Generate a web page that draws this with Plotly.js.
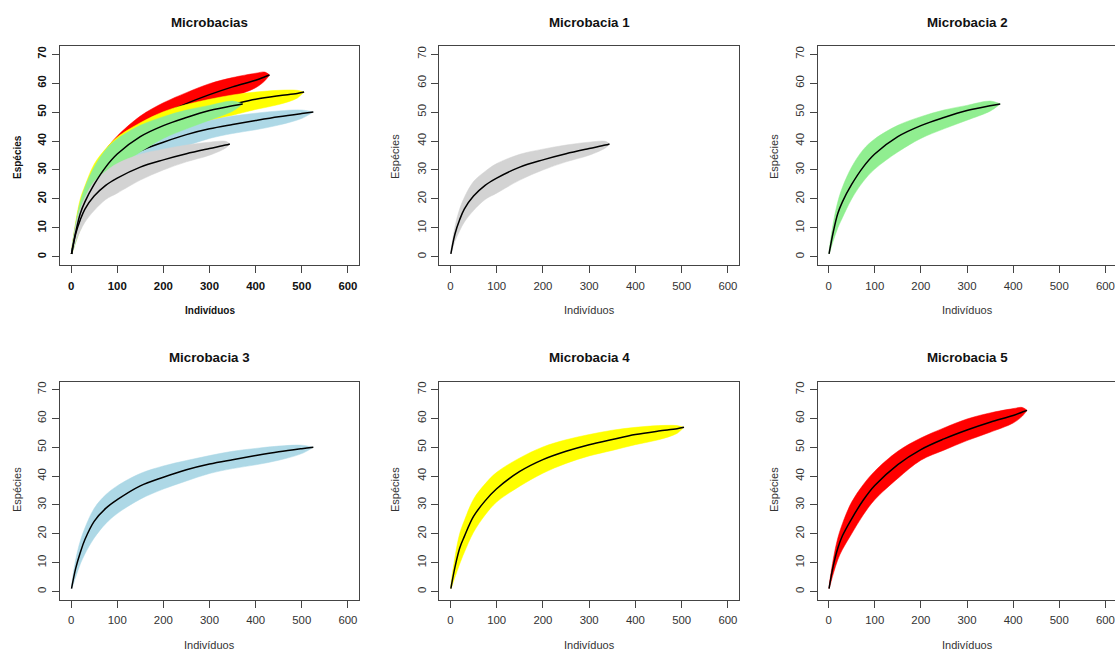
<!DOCTYPE html>
<html>
<head>
<meta charset="utf-8">
<script src="https://cdn.plot.ly/plotly-3.0.1.min.js"></script>
<style>
html,body{margin:0;padding:0;overflow:hidden;background:#fff;}
#chart{width:1120px;height:651px;}
</style>
</head>
<body>
<div id="chart"></div>
<script>
// ---- Data (Indivíduos vs Espécies) ----
const panelTitles = ["Microbacias", "Microbacia 1", "Microbacia 2", "Microbacia 3", "Microbacia 4", "Microbacia 5"];
const xTicks = [0, 100, 200, 300, 400, 500, 600];
const yTicks = [0, 10, 20, 30, 40, 50, 60, 70];
const xLabel = "Indivíduos";
const yLabel = "Espécies";

// Microbacia 1 (lightgray)
const m1X     = [1, 10, 20, 30, 50, 75, 100, 150, 200, 250, 300, 335, 344];
const m1Mean  = [1, 8, 12.8, 16.5, 21, 24.7, 27.2, 31, 33.5, 35.6, 37.4, 38.6, 39];
const m1Upper = [1, 10.5, 16.5, 20.5, 26, 29.5, 32.2, 35.4, 37.2, 38.6, 39.6, 39.9, 39];
const m1Lower = [1, 5.5, 9, 12, 16, 19.8, 22, 26.5, 30, 32.8, 35.1, 37.6, 39];

// Microbacia 2 (lightgreen)
const m2X     = [1, 10, 20, 30, 50, 75, 100, 150, 200, 250, 300, 350, 372];
const m2Mean  = [1, 8.5, 15, 19, 25, 31, 35.5, 41.5, 45.3, 48.1, 50.5, 52.2, 52.8];
const m2Upper = [1, 11.5, 19, 24, 31, 37, 40.7, 45.4, 48.4, 50.7, 52.3, 53.8, 52.8];
const m2Lower = [1, 5.5, 10, 13.5, 20, 26, 30.3, 36.2, 40.9, 44.2, 47.2, 50.3, 52.8];

// Microbacia 3 (lightblue)
const m3X     = [1, 10, 20, 30, 50, 75, 100, 150, 200, 250, 300, 350, 400, 450, 500, 525];
const m3Mean  = [1, 8, 13.5, 18, 24.3, 28.8, 31.8, 36.6, 39.6, 42.2, 44.2, 45.7, 47.1, 48.4, 49.5, 50];
const m3Upper = [1, 11, 17.5, 22, 28.8, 33.5, 36.6, 40.9, 43.5, 45.4, 47.1, 48.6, 49.6, 50.4, 50.7, 50];
const m3Lower = [1, 5, 9.5, 13, 18.5, 23.5, 27, 32, 35.5, 38.3, 40.9, 42.6, 43.9, 45.5, 47.8, 50];

// Microbacia 4 (yellow)
const m4X     = [1, 10, 20, 30, 50, 75, 100, 150, 200, 250, 300, 350, 400, 450, 490, 505];
const m4Mean  = [1, 8.5, 15, 19, 26, 31.4, 35.6, 41.6, 45.7, 48.6, 50.9, 52.7, 54.4, 55.6, 56.4, 56.9];
const m4Upper = [1, 12, 20, 24.5, 32, 37.3, 41.3, 46.3, 50.1, 52.6, 54.4, 55.9, 56.9, 57.5, 57.5, 56.9];
const m4Lower = [1, 5, 9.5, 13.5, 20.5, 26.5, 31, 36.5, 41, 44.4, 47, 48.9, 50.9, 52.6, 54.8, 56.9];

// Microbacia 5 (red)
const m5X     = [1, 10, 20, 30, 50, 75, 100, 150, 200, 250, 300, 350, 400, 420, 430];
const m5Mean  = [1, 8.8, 15, 19.3, 25.2, 31.6, 36.7, 44, 49.2, 52.9, 56, 58.7, 61, 62.2, 62.8];
const m5Upper = [1, 11, 18.5, 23.5, 31, 37, 41.7, 48.6, 53.2, 56.7, 59.8, 61.9, 63.4, 63.8, 62.8];
const m5Lower = [1, 6, 11, 14.5, 20, 26.5, 31.8, 39.2, 45.5, 49, 52.3, 55.2, 58.4, 60.8, 62.8];

const seriesColors = ["#D3D3D3", "#90EE90", "#ADD8E6", "#FFFF00", "#FF0000"];

// ---- Build ----
const series = [
  {x: m1X, mean: m1Mean, up: m1Upper, lo: m1Lower, color: seriesColors[0]},
  {x: m2X, mean: m2Mean, up: m2Upper, lo: m2Lower, color: seriesColors[1]},
  {x: m3X, mean: m3Mean, up: m3Upper, lo: m3Lower, color: seriesColors[2]},
  {x: m4X, mean: m4Mean, up: m4Upper, lo: m4Lower, color: seriesColors[3]},
  {x: m5X, mean: m5Mean, up: m5Upper, lo: m5Lower, color: seriesColors[4]}
];

const W = 1120, H = 651;
const colL = [60, 439.3, 817.5], colR = [359, 739, 1116.5];
const rowT = [46, 381.5], rowB = [265, 599.5];

const traces = [];
function band(s, idx) {
  const xa = idx === 1 ? 'x' : 'x' + idx;
  const ya = idx === 1 ? 'y' : 'y' + idx;
  traces.push({
    type: 'scatter', mode: 'lines',
    x: s.x.concat(s.x.slice().reverse()),
    y: s.up.concat(s.lo.slice().reverse()),
    fill: 'toself', fillcolor: s.color,
    line: {color: s.color, width: 0.5, shape: 'spline', smoothing: 1},
    xaxis: xa, yaxis: ya, hoverinfo: 'skip', showlegend: false
  });
}
function meanLine(s, idx) {
  const xa = idx === 1 ? 'x' : 'x' + idx;
  const ya = idx === 1 ? 'y' : 'y' + idx;
  traces.push({
    type: 'scatter', mode: 'lines', x: s.x, y: s.mean,
    line: {color: '#000', width: 1.5, shape: 'spline', smoothing: 1},
    xaxis: xa, yaxis: ya, showlegend: false
  });
}
// Panel 1: red, yellow, blue (band + line), then green and gray bands, then their lines
[4, 3, 2].forEach(i => { band(series[i], 1); meanLine(series[i], 1); });
band(series[1], 1); band(series[0], 1);
meanLine(series[1], 1); meanLine(series[0], 1);
// Panels 2-6: individual
series.forEach((s, i) => { band(s, i + 2); meanLine(s, i + 2); });

const layout = {
  width: W, height: H,
  margin: {l: 0, r: 0, t: 0, b: 0},
  paper_bgcolor: '#fff', plot_bgcolor: '#fff',
  font: {family: 'Liberation Sans, Arial, sans-serif', color: '#222'},
  annotations: []
};

for (let p = 0; p < 6; p++) {
  const col = p % 3, row = Math.floor(p / 3);
  const n = p + 1;
  const bold = p === 0;
  const xk = n === 1 ? 'xaxis' : 'xaxis' + n;
  const yk = n === 1 ? 'yaxis' : 'yaxis' + n;
  const tickFont = {family: 'Liberation Sans, Arial, sans-serif', size: 11.4, color: bold ? '#111' : '#333', weight: bold ? 'bold' : 'normal'};
  layout[xk] = {
    domain: [colL[col] / W, colR[col] / W],
    anchor: n === 1 ? 'y' : 'y' + n,
    range: [-24, 624], tickvals: xTicks, ticktext: xTicks.map(String),
    showgrid: false, zeroline: false,
    showline: true, mirror: true, linecolor: '#444', linewidth: 1,
    ticks: 'outside', ticklen: 7, tickcolor: '#444', tickwidth: 1,
    tickfont: tickFont, ticklabelstandoff: 3, fixedrange: true
  };
  layout[yk] = {
    domain: [1 - rowB[row] / H, 1 - rowT[row] / H],
    anchor: n === 1 ? 'x' : 'x' + n,
    range: [-2.8, 72.8], tickvals: yTicks, ticktext: yTicks.map(String),
    showgrid: false, zeroline: false,
    showline: true, mirror: true, linecolor: '#444', linewidth: 1,
    ticks: 'outside', ticklen: 7, tickcolor: '#444', tickwidth: 1,
    tickangle: -90, tickfont: tickFont, ticklabelstandoff: 1, fixedrange: true
  };
  const cx = (colL[col] + colR[col]) / 2;
  // Title
  layout.annotations.push({
    xref: 'paper', yref: 'paper', x: cx / W, y: 1 - (row === 0 ? 22.5 : 357.5) / H,
    xanchor: 'center', yanchor: 'middle', showarrow: false,
    text: '<b>' + panelTitles[p] + '</b>',
    font: {family: 'Liberation Sans, Arial, sans-serif', size: 13.3, color: '#111'}
  });
  // x label
  layout.annotations.push({
    xref: 'paper', yref: 'paper', x: cx / W, y: 1 - (row === 0 ? 310 : 645) / H,
    xanchor: 'center', yanchor: 'middle', showarrow: false,
    text: bold ? '<b>' + xLabel + '</b>' : xLabel,
    font: {family: 'Liberation Sans, Arial, sans-serif', size: bold ? 10 : 11, color: bold ? '#111' : '#333'}
  });
  // y label
  const yx = [17, 395, 774][col];
  layout.annotations.push({
    xref: 'paper', yref: 'paper', x: yx / W, y: 1 - (row === 0 ? 157 : 490) / H,
    xanchor: 'center', yanchor: 'middle', showarrow: false, textangle: -90,
    text: bold ? '<b>' + yLabel + '</b>' : yLabel,
    font: {family: 'Liberation Sans, Arial, sans-serif', size: bold ? 10 : 11, color: bold ? '#111' : '#333'}
  });
}

Plotly.newPlot('chart', traces, layout, {displayModeBar: false, staticPlot: true});
</script>
</body>
</html>
